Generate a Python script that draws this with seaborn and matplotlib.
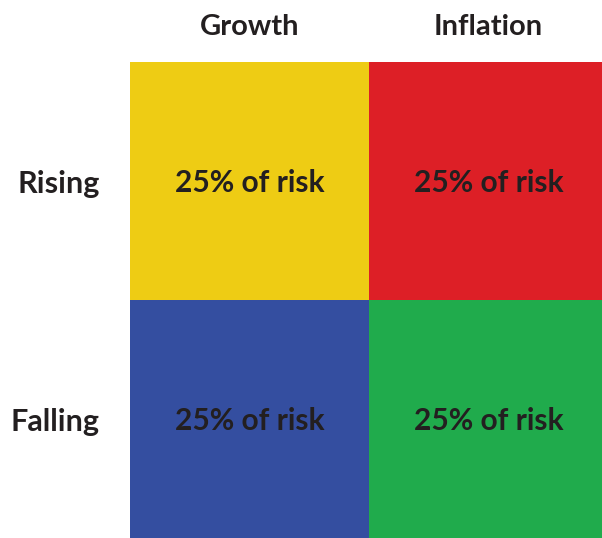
import numpy as np
import pandas as pd
import matplotlib
matplotlib.use("Agg")
import matplotlib.pyplot as plt
from matplotlib.colors import ListedColormap
import seaborn as sns

# Risk-parity quadrants: economic environment vs. driver
columns = ["Growth", "Inflation"]
rows = ["Rising", "Falling"]
risk_share = [[25, 25], [25, 25]]
quadrant_colors = ["#EECC14", "#DD1F26", "#344EA0", "#20AB4C"]

sns.set_theme(style="white")
plt.rcParams["font.family"] = ["Lato", "DejaVu Sans"]

# Each cell gets its own colour index so the colormap paints the quadrants
color_index = pd.DataFrame([[0, 1], [2, 3]], index=rows, columns=columns)
labels = np.array([[f"{v}% of risk" for v in r] for r in risk_share])

fig = plt.figure(figsize=(6.02, 5.38), dpi=100)
ax = fig.add_axes([130 / 602, 0, 478 / 602, 476 / 538])

sns.heatmap(
    color_index,
    ax=ax,
    cmap=ListedColormap(quadrant_colors),
    vmin=-0.5, vmax=3.5,
    cbar=False,
    annot=labels,
    fmt="",
    annot_kws={"fontsize": 21.5, "fontweight": "bold", "color": "#231F20",
               "va": "center_baseline"},
    linewidths=0,
)

ax.xaxis.tick_top()
ax.tick_params(axis="x", length=0, pad=15.5, labelsize=21, labelcolor="#231F20")
ax.tick_params(axis="y", length=0, pad=22, labelsize=22, labelcolor="#231F20")
for t in ax.get_xticklabels() + ax.get_yticklabels():
    t.set_fontweight("bold")
plt.setp(ax.get_yticklabels(), rotation=0, va="center_baseline")
ax.set_xlabel("")
ax.set_ylabel("")

fig.savefig("out.png", dpi=100)
